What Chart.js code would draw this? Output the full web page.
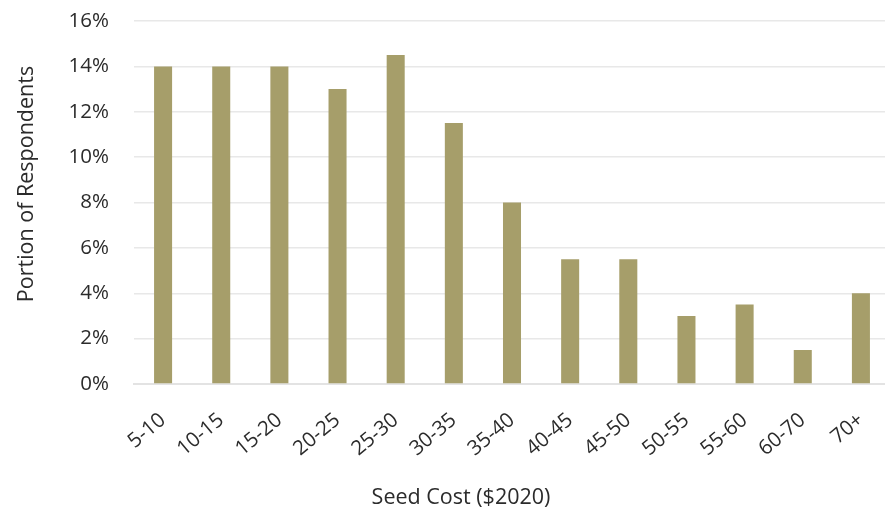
<!DOCTYPE html>
<html>
<head>
<meta charset="utf-8">
<script src="https://cdn.jsdelivr.net/npm/chart.js@4/dist/chart.umd.min.js"></script>
<style>
  html, body { margin: 0; padding: 0; background: #fff; overflow: hidden; }
  #wrap { position: relative; width: 891px; height: 512px; }
</style>
</head>
<body>
<div id="wrap"><canvas id="c"></canvas></div>
<script>
// Seed cost ranges (USD, 2020) and share of respondents in each
const categories = ['5-10', '10-15', '15-20', '20-25', '25-30', '30-35', '35-40',
                    '40-45', '45-50', '50-55', '55-60', '60-70', '70+'];
const shareOfRespondents = [14, 14, 14, 13, 14.5, 11.5, 8, 5.5, 5.5, 3, 3.5, 1.5, 4];
const yTicks = [0, 2, 4, 6, 8, 10, 12, 14, 16];

const xTitle = 'Seed Cost ($2020)';
const yTitle = 'Portion of Respondents';

const FONT = '"Open Sans", "Noto Sans", sans-serif';
const TEXT = '#2b2b2b';

// Axis titles drawn around the plot area
const axisTitles = {
  id: 'axisTitles',
  afterDraw(chart) {
    const ctx = chart.ctx;
    ctx.save();
    ctx.fillStyle = TEXT;
    ctx.font = '21.5px ' + FONT;
    ctx.textAlign = 'center';
    ctx.textBaseline = 'middle';
    ctx.fillText(xTitle, 461, 498);
    ctx.translate(27, 184);
    ctx.rotate(-Math.PI / 2);
    ctx.fillText(yTitle, 0, 0);
    ctx.restore();
  }
};

new Chart(document.getElementById('c'), {
  type: 'bar',
  data: {
    labels: categories,
    datasets: [{
      data: shareOfRespondents,
      backgroundColor: '#a69e6a',
      borderWidth: 0,
      categoryPercentage: 1,
      barPercentage: 0.31
    }]
  },
  options: {
    responsive: true,
    maintainAspectRatio: false,
    animation: false,
    layout: { padding: { top: 21, right: 1, bottom: 0, left: 0 } },
    plugins: { legend: { display: false }, tooltip: { enabled: false } },
    scales: {
      x: {
        grid: { display: false, drawTicks: false },
        border: { display: true, color: '#e3e3e3', width: 2 },
        ticks: {
          color: TEXT,
          font: { family: FONT, size: 20.5 },
          maxRotation: 40,
          minRotation: 40,
          padding: 24,
          autoSkip: false
        },
        afterFit(scale) {
          scale.height = 128;
          scale.paddingLeft = 0;
          scale.paddingRight = 0;
        }
      },
      y: {
        min: 0,
        max: 16,
        afterBuildTicks(scale) { scale.ticks = yTicks.map(v => ({ value: v })); },
        grid: { color: '#e8e8e8', lineWidth: 1.5, drawTicks: false },
        border: { display: false },
        ticks: {
          color: TEXT,
          font: { family: FONT, size: 20.5 },
          padding: 25,
          callback: v => v + '%'
        },
        afterFit(scale) {
          scale.width = 134;
          scale.paddingTop = 0;
          scale.paddingBottom = 0;
        }
      }
    }
  },
  plugins: [axisTitles]
});
</script>
</body>
</html>
